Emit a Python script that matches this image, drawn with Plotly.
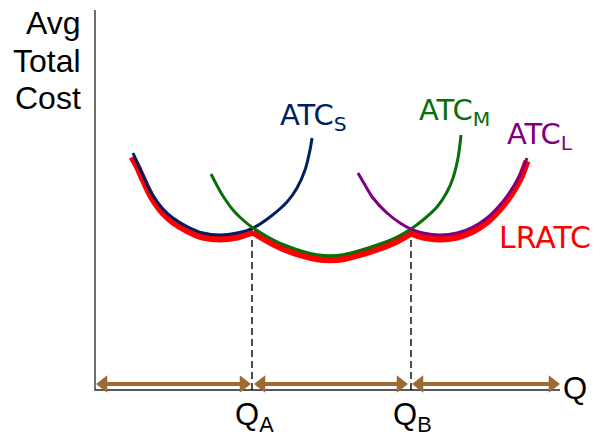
import plotly.graph_objects as go

# short-run average total cost curves (Q, cost)
atc_s_q = [38, 42, 47, 52, 58, 68, 78, 92, 108, 125, 142, 158, 175, 192, 202, 210, 215, 217]
atc_s_c = [237, 228, 217, 206, 194.5, 181, 172, 163.5, 157, 155, 157, 162, 173, 188, 202, 220, 240, 252]

atc_m_q = [116, 122, 128, 138, 148, 158, 172, 188, 208, 222, 235, 248, 265, 285, 302, 316,
           328, 342, 352, 358, 363, 366]
atc_m_c = [216, 204.5, 194, 180, 170, 162, 153.5, 145.5, 138.5, 135.3, 134.3, 135.3, 139.5,
           146, 153, 161, 170, 183, 198, 212, 232, 255]

atc_l_q = [263, 270, 278, 292, 305, 316, 328, 345, 362, 378, 392, 405, 415, 425, 432]
atc_l_c = [217, 205, 192, 177, 167, 161, 157, 155, 157, 163, 172, 185, 198, 215, 232]

# long-run envelope (drawn a little below the short-run curves), in three pieces
lratc_q = [
    [37, 42, 47, 52, 58, 68, 78, 92, 108, 125, 142, 158],
    [158, 172, 188, 208, 222, 235, 248, 265, 285, 302, 316],
    [316, 328, 345, 362, 378, 392, 405, 415, 425, 432],
]
lratc_c = [
    [233, 224, 213, 202, 190.5, 177, 168, 159.5, 153, 151, 153, 158],
    [158, 149.5, 141.5, 134.5, 131.3, 130.3, 131.3, 135.5, 142, 149, 157],
    [157, 153, 151, 153, 159, 168, 181, 194, 211, 229],
]

q_a = 157
q_b = 316
q_max = 465
cost_max = 380

# the three brown ranges under the axis
ranges = [(1, 156), (159, 313), (317, 465)]

NAVY = "#002060"
GREEN = "#0a6e0a"
PURPLE = "#800080"
RED = "#ff0000"
BROWN = "#9e6a33"

fig = go.Figure()

# axes
fig.add_trace(go.Scatter(x=[0, 0, q_max], y=[cost_max, 0, 0], mode="lines",
                         line=dict(color="#222222", width=1.3), hoverinfo="skip"))

# dashed drop lines at Q_A and Q_B
for qq in [q_a, q_b]:
    fig.add_trace(go.Scatter(x=[qq, qq], y=[0, 161], mode="lines",
                             line=dict(color="black", width=1.4, dash="7px,4px"),
                             hoverinfo="skip"))

# LRATC (thick red, under the thin curves)
for xs, ys in zip(lratc_q, lratc_c):
    fig.add_trace(go.Scatter(x=xs, y=ys, mode="lines",
                             line=dict(color=RED, width=7, shape="spline", smoothing=0.9),
                             hoverinfo="skip"))

for xs, ys, col in [(atc_s_q, atc_s_c, NAVY), (atc_m_q, atc_m_c, GREEN),
                    (atc_l_q, atc_l_c, PURPLE)]:
    fig.add_trace(go.Scatter(x=xs, y=ys, mode="lines",
                             line=dict(color=col, width=3, shape="spline", smoothing=0.9),
                             hoverinfo="skip"))

# double-headed brown arrows along the Q axis
arrow_y = 6
head = 15
off = head / 2
sx, sy = [], []
for a, b in ranges:
    sx += [a + off, b - off, None]
    sy += [arrow_y, arrow_y, None]
fig.add_trace(go.Scatter(x=sx, y=sy, mode="lines",
                         line=dict(color=BROWN, width=4), hoverinfo="skip"))
fig.add_trace(go.Scatter(x=[b - off for a, b in ranges], y=[arrow_y] * len(ranges),
                         mode="markers", hoverinfo="skip",
                         marker=dict(symbol="triangle-right", size=head, color=BROWN,
                                     line=dict(width=0))))
fig.add_trace(go.Scatter(x=[a + off for a, b in ranges], y=[arrow_y] * len(ranges),
                         mode="markers", hoverinfo="skip",
                         marker=dict(symbol="triangle-left", size=head, color=BROWN,
                                     line=dict(width=0))))

LAB = "Liberation Sans"
LAB2 = "DejaVu Sans"

for txt, yy in [("Avg", 367), ("Total", 329), ("Cost", 292)]:
    fig.add_annotation(x=-12, y=yy, text=txt, showarrow=False, xanchor="right",
                       yanchor="middle", font=dict(family=LAB, size=32, color="black"))

fig.add_annotation(x=183, y=273, text="ATC<sub>S</sub>", showarrow=False,
                   xanchor="left", yanchor="middle",
                   font=dict(family=LAB2, size=29, color=NAVY))
fig.add_annotation(x=322, y=278, text="ATC<sub>M</sub>", showarrow=False,
                   xanchor="left", yanchor="middle",
                   font=dict(family=LAB2, size=29, color=GREEN))
fig.add_annotation(x=410, y=254, text="ATC<sub>L</sub>", showarrow=False,
                   xanchor="left", yanchor="middle",
                   font=dict(family=LAB2, size=29, color=PURPLE))
fig.add_annotation(x=402, y=153, text="LRATC", showarrow=False,
                   xanchor="left", yanchor="middle",
                   font=dict(family=LAB2, size=30, color=RED))

fig.add_annotation(x=138, y=-27, text="Q<sub>A</sub>", showarrow=False,
                   xanchor="left", yanchor="middle",
                   font=dict(family=LAB, size=31, color="black"))
fig.add_annotation(x=296, y=-27, text="Q<sub>B</sub>", showarrow=False,
                   xanchor="left", yanchor="middle",
                   font=dict(family=LAB, size=31, color="black"))
fig.add_annotation(x=466, y=2, text="Q", showarrow=False,
                   xanchor="left", yanchor="middle",
                   font=dict(family=LAB, size=31, color="black"))

fig.update_layout(
    width=602, height=436,
    margin=dict(l=0, r=0, t=0, b=0),
    paper_bgcolor="white", plot_bgcolor="white",
    showlegend=False,
    xaxis=dict(range=[-95, 507], visible=False, fixedrange=True),
    yaxis=dict(range=[-46, 390], visible=False, fixedrange=True),
)

# drop the page's default 8px body margin so the figure fills the window
fig.write_html("out.html", config={"displayModeBar": False},
               post_script="document.body.style.margin='0';")
